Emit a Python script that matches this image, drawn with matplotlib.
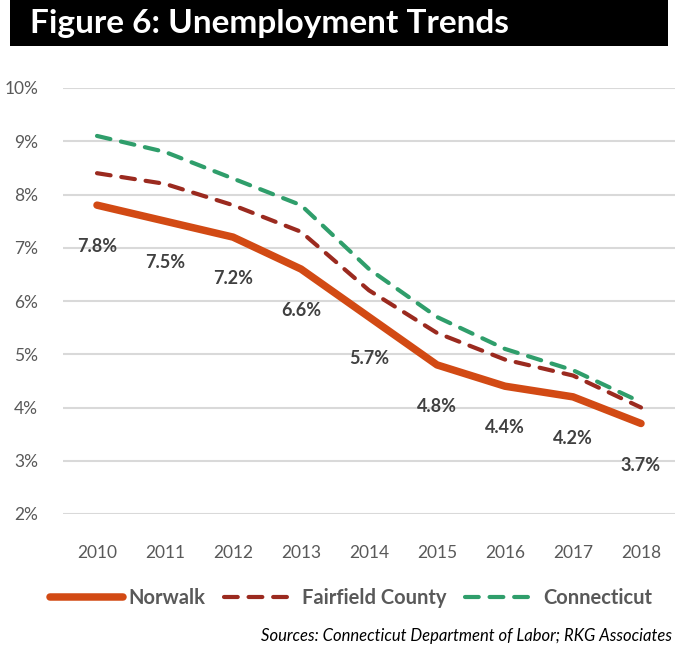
import numpy as np
import matplotlib
matplotlib.use("Agg")
import matplotlib.pyplot as plt
from matplotlib.patches import Rectangle

years = ['2010', '2011', '2012', '2013', '2014', '2015', '2016', '2017', '2018']
norwalk = [7.8, 7.5, 7.2, 6.6, 5.7, 4.8, 4.4, 4.2, 3.7]
fairfield = [8.4, 8.2, 7.8, 7.3, 6.2, 5.4, 4.9, 4.6, 4.0]
connecticut = [9.1, 8.8, 8.3, 7.8, 6.6, 5.7, 5.1, 4.7, 4.1]
yticks = [2, 3, 4, 5, 6, 7, 8, 9, 10]

plt.rcParams['font.family'] = ['Lato', 'DejaVu Sans']

fig = plt.figure(figsize=(6.78, 6.5), dpi=100)
# black title banner
fig.patches.append(Rectangle((10/678, 1-46/650), 658/678, 46/650, transform=fig.transFigure,
                             facecolor='black', edgecolor='none'))
fig.text(30/678, 1-24/650, 'Figure 6: Unemployment Trends', color='white', fontsize=24,
         fontweight='bold', va='center', ha='left')

ax = fig.add_axes([63/678, 1-514/650, 612/678, 426/650])
x = np.arange(len(years))

ax.plot(x, connecticut, color='#2F9E6B', lw=3.0, dashes=(3.3, 2.6), dash_capstyle='round',
        label='Connecticut', clip_on=False, zorder=3)
ax.plot(x, fairfield, color='#9B2A1F', lw=3.0, dashes=(3.3, 2.6), dash_capstyle='round',
        label='Fairfield County', clip_on=False, zorder=3)
ax.plot(x, norwalk, color='#D24A14', lw=5.4, solid_capstyle='round',
        label='Norwalk', clip_on=False, zorder=4)

for xi, v in zip(x, norwalk):
    ax.annotate(f'{v:.1f}%', (xi, v), xytext=(0, -30), textcoords='offset points',
                ha='center', va='center', fontsize=13, fontweight='bold', color='#404040')

ax.set_xlim(-0.5, len(years) - 0.5)
ax.set_ylim(2, 10)
ax.set_yticks(yticks)
ax.set_yticklabels([f'{t}%' for t in yticks])
ax.set_xticks(x)
ax.set_xticklabels(years)
ax.yaxis.grid(True, color='#D9D9D9', lw=1.5)
ax.set_axisbelow(True)
for s in ax.spines.values():
    s.set_visible(False)
ax.tick_params(length=0, labelsize=12.5, colors='#595959')
ax.tick_params(axis='x', pad=22)
ax.tick_params(axis='y', pad=18)

handles, labels = ax.get_legend_handles_labels()
order = [2, 1, 0]
leg = fig.legend([handles[i] for i in order], [labels[i] for i in order],
                 loc='center', bbox_to_anchor=(0.518, 1-598/650), ncol=3, frameon=False,
                 handlelength=3.6, handletextpad=0.3, columnspacing=0.9,
                 prop={'size': 14.5, 'weight': 'bold'})
for t in leg.get_texts():
    t.set_color('#595959')

fig.text(672/678, 1-636/650, 'Sources: Connecticut Department of Labor; RKG Associates',
         ha='right', va='center', fontsize=12, style='italic', color='black')

fig.savefig('out.png', dpi=100)
